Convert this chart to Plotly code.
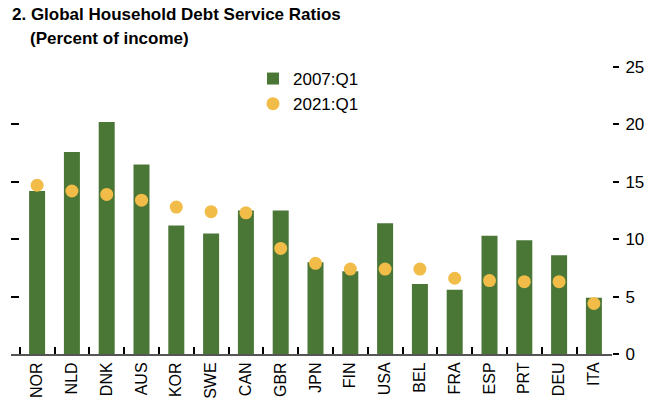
import plotly.graph_objects as go

categories = ["NOR","NLD","DNK","AUS","KOR","SWE","CAN","GBR","JPN","FIN","USA","BEL","FRA","ESP","PRT","DEU","ITA"]
q2007 = [14.2, 17.6, 20.2, 16.5, 11.2, 10.5, 12.5, 12.5, 8.0, 7.2, 11.4, 6.1, 5.6, 10.3, 9.9, 8.6, 4.9]
q2021 = [14.7, 14.2, 13.9, 13.4, 12.8, 12.4, 12.3, 9.2, 7.9, 7.4, 7.4, 7.4, 6.6, 6.4, 6.3, 6.3, 4.4]
yticks = [0, 5, 10, 15, 20, 25]

FONT = "Liberation Sans Narrow, Arial Narrow, Liberation Sans, Arial, sans-serif"
GREEN = "#4a7636"
GOLD = "#f2bc48"

fig = go.Figure()
fig.add_trace(go.Bar(x=categories, y=q2007, name="2007:Q1", marker_color=GREEN,
                     marker_line_width=0, width=0.46, legendgroup="a"))
fig.add_trace(go.Scatter(x=categories, y=q2021, name="2021:Q1", mode="markers",
                         marker=dict(color=GOLD, size=13, line_width=0), legendgroup="b"))
# invisible trace carrying the left tick axis
fig.add_trace(go.Scatter(x=[categories[0]], y=[0], yaxis="y2", mode="markers",
                         marker=dict(opacity=0), showlegend=False, hoverinfo="skip"))

fig.update_layout(
    template="none",
    width=662, height=401,
    margin=dict(l=11, r=50, t=67, b=47, autoexpand=False),
    paper_bgcolor="white", plot_bgcolor="white",
    font=dict(family=FONT, size=16, color="black"),
    showlegend=True,
    legend=dict(x=(253-11)/601, y=1.0 + 6/287, xanchor="left", yanchor="top",
                bgcolor="rgba(0,0,0,0)", font=dict(size=17), tracegroupgap=0, borderwidth=0),
    xaxis=dict(range=[-0.75, 16.52], showgrid=False, showline=True, linecolor="#555555",
               linewidth=2, ticks="inside", ticklen=7, tickwidth=1.5, tickcolor="black",
               tickson="boundaries", tickangle=-90, tickfont=dict(size=16), zeroline=False,
               automargin=False),
    yaxis=dict(range=[0, 25], side="right", showgrid=False, zeroline=False, showline=False,
               tickvals=yticks, ticks="outside", ticklen=6, tickwidth=1.5, tickcolor="black",
               tickfont=dict(size=17), ticklabelstandoff=3, automargin=False),
    yaxis2=dict(range=[0, 25], overlaying="y", side="left", showgrid=False, zeroline=False,
                showline=False, tickvals=yticks, ticks="inside", ticklen=8, tickwidth=1.5,
                tickcolor="black", showticklabels=False, automargin=False),
    annotations=[
        dict(text="<b>2. Global Household Debt Service Ratios</b>", xref="paper", yref="paper",
             x=(10-11)/601, y=(354-3)/287, xanchor="left", yanchor="top", showarrow=False,
             font=dict(size=17, family=FONT)),
        dict(text="<b>(Percent of income)</b>", xref="paper", yref="paper",
             x=(28-11)/601, y=(354-27)/287, xanchor="left", yanchor="top", showarrow=False,
             font=dict(size=17, family=FONT)),
    ],
)

fig.write_html("out.html", config={"displayModeBar": False},
               post_script="document.body.style.margin='0';document.body.style.overflow='hidden';")
